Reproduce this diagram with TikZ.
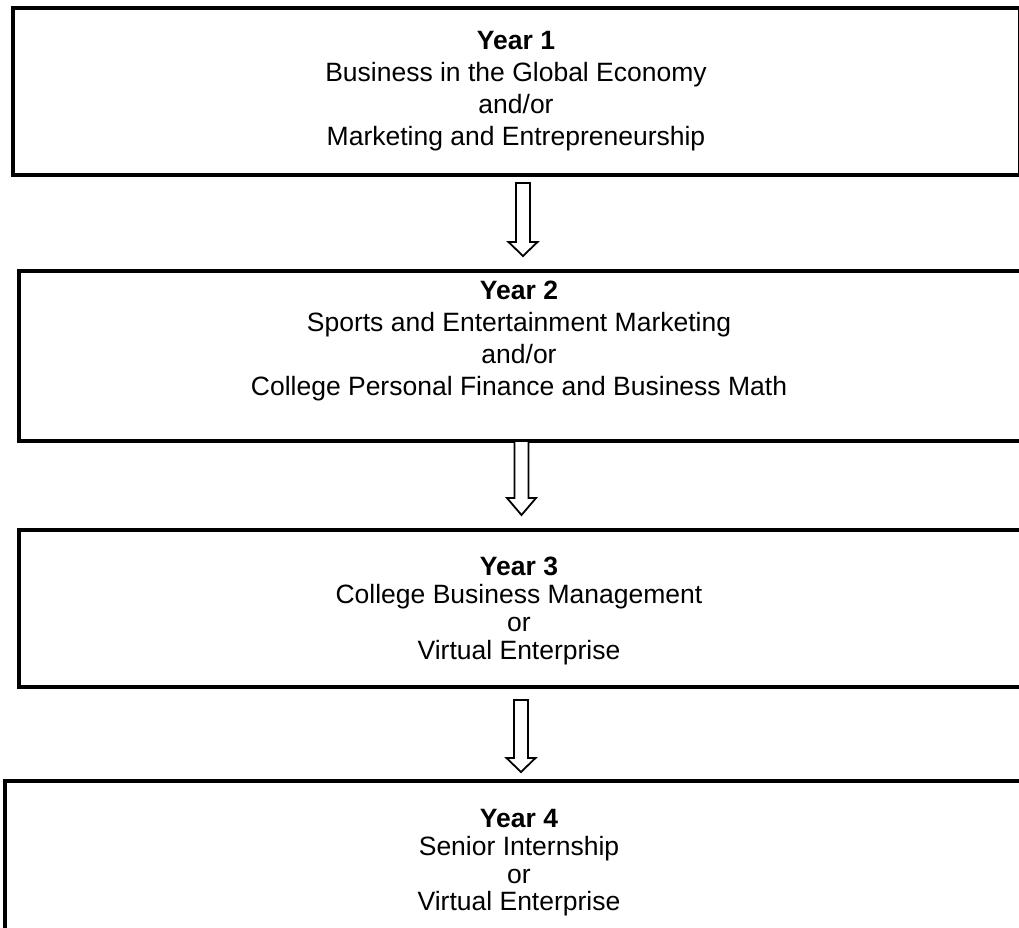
\documentclass[tikz,border=0pt]{standalone}
\usepackage{fontspec}
\setmainfont{Liberation Sans}
\tikzset{
  yearbox/.style={draw=black, line width=4pt},
  yeartext/.style={align=center, font=\fontsize{26.5}{32}\selectfont, inner sep=0pt},
  tighttext/.style={yeartext, font=\fontsize{26.5}{27.7}\selectfont},
  blockarrow/.style={draw=black, line width=1.8pt, fill=white, line join=miter}
}
\newcommand\hollowarrow[4]{%
  \draw[blockarrow] (#1-7,-#2) -- (#1+7,-#2) -- (#1+7,-#3) -- (#1+14.5,-#3)
    -- (#1,-#4) -- (#1-14.5,-#3) -- (#1-7,-#3) -- cycle;}
\begin{document}
\begin{tikzpicture}[x=1pt,y=1pt]
\useasboundingbox (0,0) rectangle (1019,-927);
% boxes
\draw[yearbox] (13,-8) rectangle (1019.5,-175);
\draw[yearbox] (1040,-271) -- (19,-271) -- (19,-441) -- (1040,-441);
\draw[yearbox] (1040,-530) -- (19,-530) -- (19,-686.5) -- (1040,-686.5);
\draw[yearbox] (1040,-781) -- (5,-781) -- (5,-950);
% named anchors of boxes
\coordinate (b1) at (516,-91.5);
\coordinate (b2) at (519,-340.5);
\coordinate (b3) at (519,-611);
\coordinate (b4) at (519,-863);
\node[yeartext] (t1) at (b1) {\textbf{Year 1}\\Business in the Global Economy\\and/or\\Marketing and Entrepreneurship};
\node[yeartext] (t2) at (b2) {\textbf{Year 2}\\Sports and Entertainment Marketing\\and/or\\College Personal Finance and Business Math};
\node[tighttext] (t3) at (b3) {\textbf{Year 3}\\College Business Management\\or\\Virtual Enterprise};
\node[tighttext] (t4) at (b4) {\textbf{Year 4}\\Senior Internship\\or\\Virtual Enterprise};
% arrows
\hollowarrow{523}{183}{242}{256}
\hollowarrow{521.5}{441}{498}{515}
\hollowarrow{521}{700}{758}{772}
\end{tikzpicture}
\end{document}
